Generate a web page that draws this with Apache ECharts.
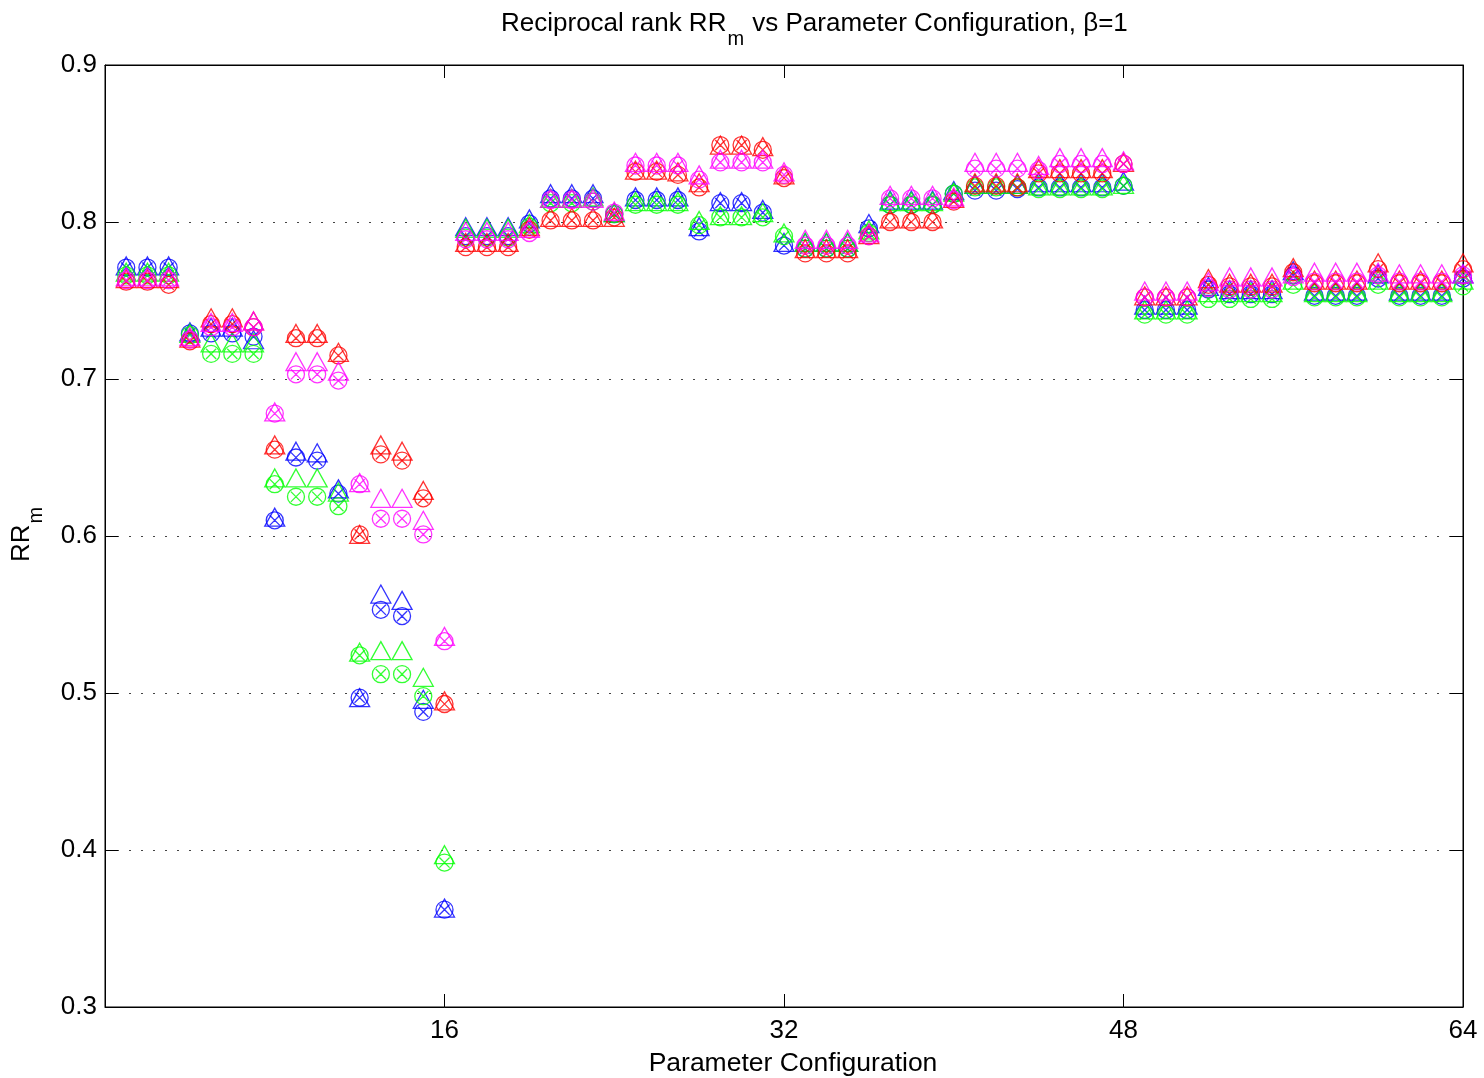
<!DOCTYPE html>
<html>
<head>
<meta charset="utf-8">
<script src="https://cdn.jsdelivr.net/npm/echarts@6/dist/echarts.min.js"></script>
<style>
  html, body { margin: 0; padding: 0; background: #fff; }
  #chart { width: 1484px; height: 1078px; }
</style>
</head>
<body>
<div id="chart"></div>
<script>
const configs = [1, 2, 3, 4, 5, 6, 7, 8, 9, 10, 11, 12, 13, 14, 15, 16,
  17, 18, 19, 20, 21, 22, 23, 24, 25, 26, 27, 28, 29, 30, 31, 32,
  33, 34, 35, 36, 37, 38, 39, 40, 41, 42, 43, 44, 45, 46, 47, 48,
  49, 50, 51, 52, 53, 54, 55, 56, 57, 58, 59, 60, 61, 62, 63, 64];

const xTicks = [16, 32, 48, 64];
const yTicks = [0.3, 0.4, 0.5, 0.6, 0.7, 0.8, 0.9];

// triangles and circle-x markers, one pair per colour
const blueTri = [.772, .772, .772, .730, .733, .733, .725, .612, .654, .653, .630, .497, .563, .559, .496, .363,
  .797, .797, .797, .802, .818, .818, .818, .806, .816, .816, .816, .797, .813, .813, .808, .787,
  .787, .787, .787, .799, .814, .814, .814, .820, .824, .824, .824, .825, .825, .825, .825, .826,
  .747, .747, .747, .759, .757, .757, .757, .769, .756, .756, .756, .767, .756, .756, .756, .767];
const blueCirc = [.771, .771, .771, .729, .729, .729, .727, .610, .650, .648, .627, .497, .553, .549, .488, .362,
  .791, .791, .791, .799, .815, .815, .815, .805, .814, .814, .814, .794, .812, .812, .806, .785,
  .783, .783, .783, .796, .811, .811, .811, .818, .820, .820, .821, .822, .822, .822, .822, .823,
  .744, .744, .744, .757, .754, .754, .754, .766, .753, .753, .753, .764, .753, .753, .753, .764];
const greenTri = [.768, .768, .768, .729, .723, .723, .723, .637, .637, .637, .628, .526, .527, .527, .510, .397,
  .796, .796, .796, .799, .815, .815, .816, .806, .813, .813, .813, .801, .804, .804, .806, .793,
  .787, .787, .787, .795, .813, .813, .813, .819, .824, .824, .824, .823, .823, .823, .823, .824,
  .744, .744, .744, .755, .755, .755, .755, .763, .755, .755, .755, .763, .755, .755, .755, .763];
const greenCirc = [.766, .766, .766, .728, .716, .716, .716, .633, .625, .625, .619, .524, .512, .512, .498, .392,
  .790, .790, .790, .797, .812, .812, .813, .805, .811, .811, .811, .798, .803, .803, .803, .791,
  .783, .783, .783, .793, .811, .811, .811, .818, .822, .822, .822, .821, .821, .821, .821, .823,
  .741, .741, .741, .751, .751, .751, .751, .760, .752, .752, .752, .760, .752, .752, .752, .759];
const redTri = [.764, .764, .764, .726, .739, .739, .737, .658, .729, .729, .717, .601, .658, .654, .629, .495,
  .787, .787, .787, .797, .803, .803, .803, .803, .833, .833, .832, .825, .849, .849, .848, .830,
  .783, .783, .783, .792, .802, .802, .802, .815, .825, .825, .825, .834, .834, .834, .834, .838,
  .753, .753, .753, .764, .761, .761, .761, .771, .763, .763, .763, .774, .763, .763, .763, .774];
const redCirc = [.762, .762, .760, .724, .735, .735, .733, .655, .726, .726, .715, .601, .652, .648, .624, .493,
  .784, .784, .784, .795, .801, .801, .801, .803, .832, .832, .830, .822, .849, .849, .846, .828,
  .780, .780, .780, .791, .800, .800, .800, .813, .823, .823, .822, .831, .831, .831, .831, .837,
  .752, .752, .752, .760, .759, .759, .759, .768, .761, .761, .761, .770, .761, .761, .761, .770];
const magTri = [.765, .765, .765, .727, .736, .736, .737, .679, .711, .711, .705, .634, .624, .624, .610, .536,
  .794, .794, .794, .796, .815, .815, .815, .807, .838, .838, .838, .830, .840, .840, .840, .832,
  .789, .789, .789, .793, .817, .817, .817, .816, .838, .838, .838, .836, .841, .841, .841, .839,
  .756, .756, .756, .762, .765, .765, .765, .767, .768, .768, .768, .768, .767, .767, .767, .767];
const magCirc = [.763, .763, .763, .725, .733, .733, .733, .678, .703, .703, .699, .633, .611, .611, .601, .533,
  .789, .789, .789, .793, .814, .814, .813, .806, .836, .836, .836, .827, .838, .838, .838, .830,
  .785, .785, .785, .791, .815, .815, .815, .814, .834, .834, .834, .833, .837, .837, .837, .837,
  .752, .752, .752, .758, .757, .757, .757, .765, .762, .762, .762, .766, .762, .762, .762, .766];

const FONT = '"Liberation Sans", Arial, Helvetica, sans-serif';
const CIRCLE_X = 'path://M-1,0A1,1,0,1,1,1,0A1,1,0,1,1,-1,0ZM-0.6,-0.6L0.6,0.6M0.6,-0.6L-0.6,0.6';

function makeSeries(vals, color, isTri) {
  return {
    type: 'scatter',
    data: vals.map((v, i) => [configs[i], v]),
    symbol: isTri ? 'triangle' : CIRCLE_X,
    symbolSize: isTri ? [20, 18] : 17,
    itemStyle: { color: 'rgba(0,0,0,0)', borderColor: color, borderWidth: 1.3 },
    emphasis: { disabled: true },
    silent: true
  };
}

// text widths, for placing the subscripts
const ctx = document.createElement('canvas').getContext('2d');
function tw(s, size) {
  ctx.font = size + 'px ' + FONT;
  return ctx.measureText(s).width;
}

const mainSize = 26, subSize = 20;
const t1 = 'Reciprocal rank RR', t2 = ' vs Parameter Configuration, \u03b2=1';
const titleX = 501, titleY = 24;
const w1 = tw(t1, mainSize), wm = tw('m', subSize);

const yl = 'RR';
const wy = tw(yl, mainSize);

const chart = echarts.init(document.getElementById('chart'));

const axisCommon = {
  min: 0, max: 64, interval: 16,
  axisLine: { show: true, onZero: false, lineStyle: { color: '#000', width: 1 } },
  axisTick: { show: true, inside: true, length: 13, lineStyle: { color: '#000' } },
  splitLine: { show: false }
};
const yCommon = {
  min: 0.3, max: 0.9, interval: 0.1,
  axisLine: { show: true, onZero: false, lineStyle: { color: '#000', width: 1 } },
  axisTick: { show: true, inside: true, length: 13, lineStyle: { color: '#000' } }
};

const option = {
  animation: false,
  backgroundColor: '#fff',
  grid: {
    left: 105, right: 21, top: 65, bottom: 71,
    outerBoundsMode: 'none', containLabel: false,
    show: true, borderColor: '#000', borderWidth: 1
  },
  xAxis: [
    Object.assign({}, axisCommon, {
      type: 'value', position: 'bottom',
      name: 'Parameter Configuration', nameLocation: 'middle', nameGap: 43,
      nameTextStyle: { color: '#000', fontSize: 26.5, fontFamily: FONT, padding: [0, 0, 0, 18] },
      axisLabel: {
        show: true, margin: 11, color: '#000', fontSize: mainSize, fontFamily: FONT,
        formatter: v => (xTicks.indexOf(v) >= 0 ? String(v) : '')
      }
    }),
    Object.assign({}, axisCommon, {
      type: 'value', position: 'top', axisLabel: { show: false }
    })
  ],
  yAxis: [
    Object.assign({}, yCommon, {
      type: 'value', position: 'left',
      axisLabel: {
        show: true, margin: 8, color: '#000', fontSize: mainSize, fontFamily: FONT,
        formatter: v => v.toFixed(1)
      },
      splitLine: {
        show: true,
        lineStyle: { color: '#444', width: 1, type: [2, 10] }
      }
    }),
    Object.assign({}, yCommon, {
      type: 'value', position: 'right', axisLabel: { show: false }, splitLine: { show: false }
    })
  ],
  graphic: [
    { type: 'text', x: titleX, y: titleY,
      style: { text: t1, fill: '#000', font: mainSize + 'px ' + FONT, align: 'left', verticalAlign: 'middle' } },
    { type: 'text', x: titleX + w1 + 1, y: titleY + 15,
      style: { text: 'm', fill: '#000', font: subSize + 'px ' + FONT, align: 'left', verticalAlign: 'middle' } },
    { type: 'text', x: titleX + w1 + 2 + wm, y: titleY,
      style: { text: t2, fill: '#000', font: mainSize + 'px ' + FONT, align: 'left', verticalAlign: 'middle' } },
    { type: 'group', x: 22, y: 562, rotation: Math.PI / 2,
      children: [
        { type: 'text', x: 0, y: 0,
          style: { text: yl, fill: '#000', font: mainSize + 'px ' + FONT, align: 'left', verticalAlign: 'middle' } },
        { type: 'text', x: wy + 1, y: 14,
          style: { text: 'm', fill: '#000', font: subSize + 'px ' + FONT, align: 'left', verticalAlign: 'middle' } }
      ] }
  ],
  series: [
    makeSeries(blueTri, '#0000ff', true),
    makeSeries(blueCirc, '#0000ff', false),
    makeSeries(greenTri, '#00ff00', true),
    makeSeries(greenCirc, '#00ff00', false),
    makeSeries(redTri, '#ff0000', true),
    makeSeries(redCirc, '#ff0000', false),
    makeSeries(magTri, '#ff00ff', true),
    makeSeries(magCirc, '#ff00ff', false)
  ]
};

chart.setOption(option);
</script>
</body>
</html>
